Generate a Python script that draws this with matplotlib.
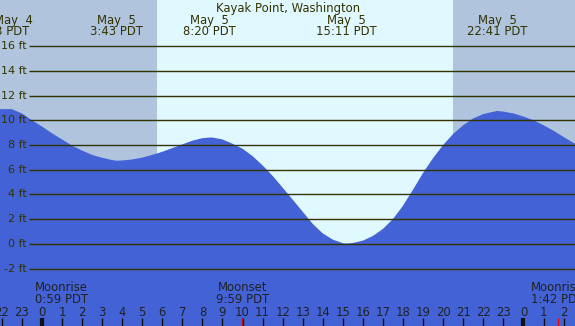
# tide chart, Kayak Point

import matplotlib
matplotlib.use('Agg')
import matplotlib.pyplot as plt
import numpy as np

# tide heights (ft), hours from midnight May 5
hours = [-2.09, -1.5, -1, -0.5, 0, 0.5, 1, 1.5, 2, 2.5, 3, 3.5, 3.72, 4, 4.5, 5, 5.5,
         6, 6.5, 7, 7.5, 8, 8.33, 8.5, 9, 9.5, 10, 10.5, 11, 11.5, 12, 12.5, 13, 13.5,
         14, 14.5, 15, 15.18, 15.5, 16, 16.5, 17, 17.5, 18, 18.5, 19, 19.5, 20, 20.5,
         21, 21.5, 22, 22.68, 23, 23.5, 24, 24.5, 25, 25.5, 26, 26.57]
heights = [10.9, 10.9, 10.55, 10.0, 9.5, 8.95, 8.45, 7.95, 7.55, 7.2, 6.97, 6.78, 6.73,
           6.75, 6.83, 6.98, 7.2, 7.45, 7.75, 8.05, 8.35, 8.55, 8.6, 8.6, 8.45, 8.1,
           7.7, 7.1, 6.35, 5.5, 4.55, 3.58, 2.6, 1.62, 0.85, 0.35, 0.06, 0.03, 0.08, 0.27,
           0.65, 1.22, 2.02, 3.1, 4.4, 5.75, 6.95, 8.0, 8.9, 9.6, 10.15, 10.5, 10.75,
           10.7, 10.55, 10.3, 10.0, 9.6, 9.15, 8.65, 8.1]

# tide events on the top
event_hours = [-1.45, 3.72, 8.33, 15.18, 22.68]
event_days = ['May  4', 'May  5', 'May  5', 'May  5', 'May  5']
event_times = ['22:33 PDT', '3:43 PDT', '8:20 PDT', '15:11 PDT', '22:41 PDT']

# moon events on the bottom
moon_hours = [0.98, 9.98, 25.7]
moon_names = ['Moonrise', 'Moonset', 'Moonrise']
moon_times = ['0:59 PDT', '9:59 PDT', '1:42 PDT']

sunrise, sunset = 5.73, 20.49
levels = [-2, 0, 2, 4, 6, 8, 10, 12, 14, 16]
hour_ticks = list(range(-2, 27))
hour_labels = [str(h % 24) for h in hour_ticks]

xmin, xmax = -2.09, 26.57
ymin, ymax = -6.63, 19.72
fs = 8.4

night = '#b0c4de'
day = '#e0f8ff'
water = '#4262d6'
ink = '#333300'

fig = plt.figure(figsize=(5.75, 3.26), dpi=100)
ax = fig.add_axes([0, 0, 1, 1])
ax.set_xlim(xmin, xmax)
ax.set_ylim(ymin, ymax)
ax.axis('off')

ax.axvspan(xmin, sunrise, color=night, lw=0)
ax.axvspan(sunrise, sunset, color=day, lw=0)
ax.axvspan(sunset, xmax, color=night, lw=0)

ax.fill_between(hours, heights, ymin, color=water, lw=0, zorder=2)

for lv in levels:
    ax.hlines(lv, -0.65, xmax, color=ink, lw=1, zorder=3)
    ax.text(-0.75, lv, '%d ft' % lv, ha='right', va='center', fontsize=8.0, color=ink, zorder=4)

ax.text(12.25, 19.05, 'Kayak Point, Washington', ha='center', va='center', fontsize=fs, color=ink)
for i, (h, d, t) in enumerate(zip(event_hours, event_days, event_times)):
    if i == 0:
        # first one is cut by the left edge
        ax.text(-0.45, 18.1, d, ha='right', va='center', fontsize=fs, color=ink)
        ax.text(-0.65, 17.15, t, ha='right', va='center', fontsize=fs, color=ink)
        continue
    ax.text(h, 18.1, d, ha='center', va='center', fontsize=fs, color=ink)
    ax.text(h, 17.15, t, ha='center', va='center', fontsize=fs, color=ink)

for h, n, t in zip(moon_hours, moon_names, moon_times):
    ax.text(h, -3.5, n, ha='center', va='center', fontsize=fs, color='#222222')
    ax.text(h, -4.45, t, ha='center', va='center', fontsize=fs, color='#222222')
    ax.vlines(h, ymin, -6.0, color='red', lw=1, zorder=4)

for h, lab in zip(hour_ticks, hour_labels):
    ax.text(h, -5.5, lab, ha='center', va='center', fontsize=fs, color='#222222')
    ax.vlines(h, ymin, -6.0, color='#111111', lw=3 if h % 24 == 0 else 1, zorder=4)

plt.savefig('out.png', dpi=100)
